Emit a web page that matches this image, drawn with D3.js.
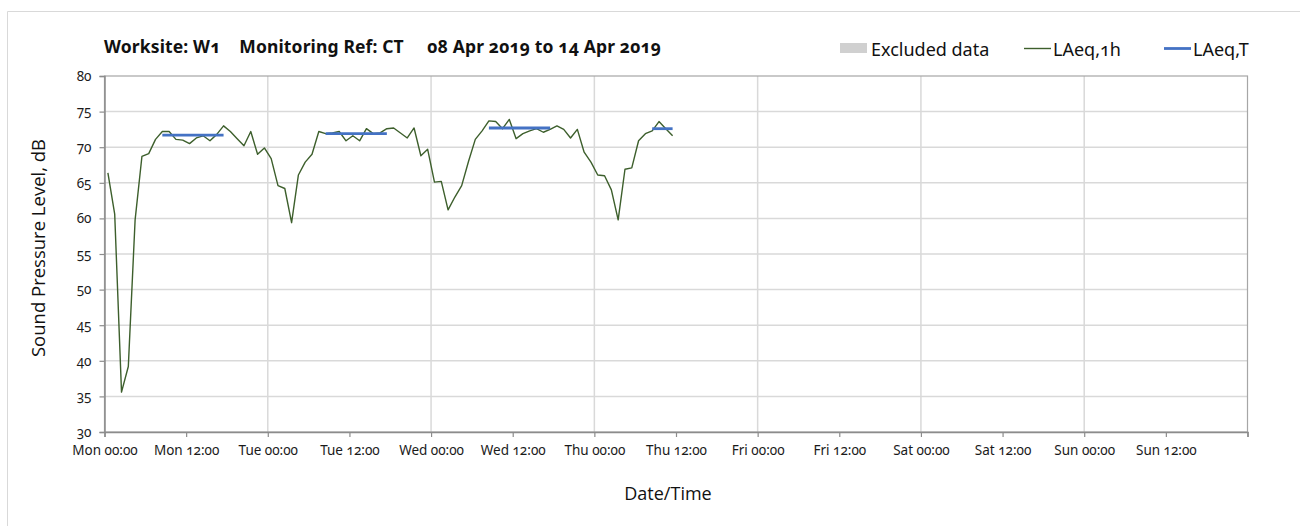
<!DOCTYPE html>
<html>
<head>
<meta charset="utf-8">
<script src="https://cdn.jsdelivr.net/npm/d3@7"></script>
<style>
  html, body { margin: 0; padding: 0; background: #fff; }
  svg { display: block; }
  .tick text { font-family: "Noto Sans", "Open Sans", sans-serif; font-variant-numeric: oldstyle-nums; font-feature-settings: "onum" 1; }
</style>
</head>
<body>
<svg id="chart" width="1300" height="526"></svg>
<script>
// ---------- data ----------
const chartTitle = "Worksite: W1    Monitoring Ref: CT     08 Apr 2019 to 14 Apr 2019";
const periodStart = "2019-04-08T00:00:00";
const periodEnd = "2019-04-15T00:00:00";
const firstReadingOffsetMinutes = 30;   // hourly readings start at 00:30

// LAeq,1h hourly values (dB), Mon 00:30 onwards
const laeq1hMon = [66.4, 60.6, 35.6, 39.2, 59.8, 68.7, 69.1, 71.1, 72.2, 72.2, 71.1, 71.0,
                   70.5, 71.3, 71.6, 70.9, 71.8, 73.0, 72.2, 71.2, 70.2, 72.2, 69.0, 69.9];
const laeq1hTue = [68.4, 64.6, 64.2, 59.4, 66.1, 67.9, 69.0, 72.2, 71.9, 72.0, 72.2, 70.9,
                   71.6, 70.9, 72.6, 71.9, 72.0, 72.6, 72.7, 72.0, 71.3, 72.7, 68.8, 69.7];
const laeq1hWed = [65.1, 65.2, 61.2, 63.0, 64.6, 68.0, 71.1, 72.3, 73.7, 73.6, 72.6, 73.9,
                   71.2, 71.9, 72.3, 72.6, 72.1, 72.5, 73.0, 72.5, 71.3, 72.5, 69.3, 67.9];
const laeq1hThu = [66.1, 66.0, 64.0, 59.8, 66.9, 67.1, 70.9, 71.9, 72.3, 73.6, 72.6, 71.6];

// LAeq,T daytime values
const laeqTStart = ["2019-04-08T08:30", "2019-04-09T08:30", "2019-04-10T08:30", "2019-04-11T08:30"];
const laeqTEnd   = ["2019-04-08T17:30", "2019-04-09T17:30", "2019-04-10T17:30", "2019-04-11T11:30"];
const laeqTValue = [71.7, 71.9, 72.7, 72.6];

const yTicks = [30, 35, 40, 45, 50, 55, 60, 65, 70, 75, 80];
const dayNames = ["Sun", "Mon", "Tue", "Wed", "Thu", "Fri", "Sat"];

const legendLabels = ["Excluded data", "LAeq,1h", "LAeq,T"];
const yAxisTitle = "Sound Pressure Level, dB";
const xAxisTitle = "Date/Time";

// ---------- layout ----------
const svg = d3.select("#chart");
const plot = { left: 104.5, right: 1247.5, top: 76, bottom: 432 };
const greenCol = "#3d5f2c";
const blueCol = "#4472c4";
const gridCol = "#d9d9d9";
const axisCol = "#8c8c8c";

const t0 = new Date(periodStart), t1 = new Date(periodEnd);
const x = d3.scaleTime().domain([t0, t1]).range([plot.left, plot.right]);
const y = d3.scaleLinear().domain([30, 80]).range([plot.bottom, plot.top]);

const allValues = [].concat(laeq1hMon, laeq1hTue, laeq1hWed, laeq1hThu);
const series = allValues.map((v, i) => ({
  t: new Date(t0.getTime() + (firstReadingOffsetMinutes + i * 60) * 60000),
  v
}));

// outer frame (only top and left visible)
svg.append("path")
  .attr("d", "M7.5,526 L7.5,11.5 L1300,11.5")
  .attr("fill", "none").attr("stroke", "#d9d9d9").attr("stroke-width", 1);

// horizontal gridlines
svg.append("g").selectAll("line").data(yTicks.filter(d => d > 30 && d < 80)).join("line")
  .attr("x1", plot.left).attr("x2", plot.right)
  .attr("y1", d => y(d)).attr("y2", d => y(d))
  .attr("stroke", gridCol).attr("stroke-width", 1.5);

// vertical day gridlines
const dayTicks = d3.timeDay.range(t0, t1);
svg.append("g").selectAll("line").data(dayTicks.slice(1)).join("line")
  .attr("x1", d => x(d)).attr("x2", d => x(d))
  .attr("y1", plot.top).attr("y2", plot.bottom)
  .attr("stroke", gridCol).attr("stroke-width", 1.5);

// plot border
svg.append("rect")
  .attr("x", plot.left).attr("y", plot.top)
  .attr("width", plot.right - plot.left).attr("height", plot.bottom - plot.top)
  .attr("fill", "none").attr("stroke", "#a6a6a6").attr("stroke-width", 1.2);

// axes
const xTicks = d3.timeHour.every(12).range(t0, t1);
const fmt = d => dayNames[d.getDay()] + " " + d3.timeFormat("%H:%M")(d);
const xAxis = svg.append("g").attr("transform", `translate(0,${plot.bottom})`)
  .call(d3.axisBottom(x).tickValues(xTicks.concat([t1])).tickFormat((d, i) => d.getTime() === t1.getTime() ? "" : fmt(d)).tickSize(5).tickPadding(8));
xAxis.select(".domain").attr("stroke", axisCol).attr("stroke-width", 1.5);
xAxis.selectAll(".tick line").attr("stroke", axisCol).attr("stroke-width", 1.2);
xAxis.selectAll(".tick text").attr("font-size", 13.5).attr("fill", "#1a1a1a");

const yAxis = svg.append("g").attr("transform", `translate(${plot.left},0)`)
  .call(d3.axisLeft(y).tickValues(yTicks).tickFormat(d3.format("d")).tickSize(5).tickPadding(8));
yAxis.select(".domain").attr("stroke", axisCol).attr("stroke-width", 1.5);
yAxis.selectAll(".tick line").attr("stroke", axisCol).attr("stroke-width", 1.2);
yAxis.selectAll(".tick text").attr("font-size", 13.5).attr("fill", "#1a1a1a");

// LAeq,1h line
svg.append("path").datum(series)
  .attr("d", d3.line().x(d => x(d.t)).y(d => y(d.v)))
  .attr("fill", "none").attr("stroke", greenCol).attr("stroke-width", 1.4)
  .attr("stroke-linejoin", "round");

// LAeq,T segments
svg.append("g").selectAll("line").data(laeqTValue).join("line")
  .attr("x1", (d, i) => x(new Date(laeqTStart[i])))
  .attr("x2", (d, i) => x(new Date(laeqTEnd[i])))
  .attr("y1", d => y(d)).attr("y2", d => y(d))
  .attr("stroke", blueCol).attr("stroke-width", 2.8);

// title
svg.append("text").attr("x", 104).attr("y", 53)
  .attr("font-family", "'Noto Sans', 'Open Sans', sans-serif")
  .attr("font-weight", "bold").attr("font-size", 17.5).attr("fill", "#111")
  .style("font-variant-numeric", "oldstyle-nums")
  .attr("xml:space", "preserve").style("white-space", "pre")
  .attr("textLength", 557).attr("lengthAdjust", "spacing")
  .text(chartTitle);

// legend
const lg = svg.append("g").attr("font-family", "'Noto Sans', 'Open Sans', sans-serif")
  .attr("font-size", 18).attr("fill", "#111").style("font-variant-numeric", "oldstyle-nums");
lg.append("rect").attr("x", 840).attr("y", 43).attr("width", 27).attr("height", 10).attr("fill", "#d0d0d0");
lg.append("text").attr("x", 871).attr("y", 55.5).text(legendLabels[0]);
lg.append("line").attr("x1", 1024).attr("x2", 1051).attr("y1", 48.5).attr("y2", 48.5)
  .attr("stroke", greenCol).attr("stroke-width", 1.4);
lg.append("text").attr("x", 1053).attr("y", 55.5).text(legendLabels[1]);
lg.append("line").attr("x1", 1164).attr("x2", 1191).attr("y1", 48.5).attr("y2", 48.5)
  .attr("stroke", blueCol).attr("stroke-width", 2.8);
lg.append("text").attr("x", 1193).attr("y", 55.5).text(legendLabels[2]);

// axis titles
svg.append("text")
  .attr("transform", `translate(45,${(plot.top + plot.bottom) / 2 - 6}) rotate(-90)`)
  .attr("text-anchor", "middle")
  .attr("font-family", "'Open Sans', sans-serif").attr("font-size", 18.5).attr("fill", "#111")
  .text(yAxisTitle);
svg.append("text")
  .attr("x", 668).attr("y", 500).attr("text-anchor", "middle")
  .attr("font-family", "'Open Sans', sans-serif").attr("font-size", 18).attr("fill", "#111")
  .text(xAxisTitle);
</script>
</body>
</html>
